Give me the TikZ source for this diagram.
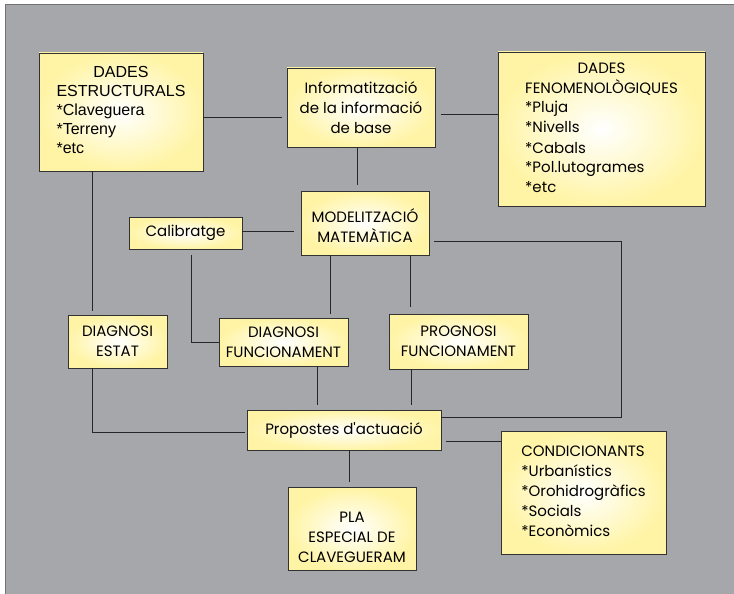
\documentclass[tikz,border=0pt]{standalone}
\usepackage{fontspec}
\setmainfont{Poppins}
\newfontfamily\helv{Liberation Sans}
\definecolor{fons}{RGB}{166,167,171}
\definecolor{groc}{RGB}{255,244,165}
\definecolor{vora}{RGB}{50,50,50}
\begin{document}
\begin{tikzpicture}[x=1pt,y=-1pt,
    caixa/.style={draw=vora, line width=0.8pt, inner sep=0pt, inner color=white, outer color=groc,
        align=center, font=\fontsize{15}{20}\selectfont},
    linia/.style={draw=black!85, line width=0.8pt}]
    \fill[white] (0,0) rectangle (734,594);
    \useasboundingbox (0,0) rectangle (734,594);
    \filldraw[fill=fons, draw=black!55, line width=0.6pt] (5,4) rectangle (740,600);
    % caixes
    \node[caixa, minimum width=164, minimum height=118, font=\helv\fontsize{16}{19}\selectfont] (estr) at (121,112)
        {\begin{tabular}{@{}l@{}}\multicolumn{1}{@{}c@{}}{DADES}\\ESTRUCTURALS\\{*}Claveguera\\{*}Terreny\\{*}etc\end{tabular}};
    \node[caixa, minimum width=148, minimum height=79] (info) at (361,107.5)
        {Informatització\\de la informació\\de base};
    \node[caixa, minimum width=207, minimum height=154] (fen) at (601.5,129)
        {\begin{tabular}{@{}l@{}}\multicolumn{1}{@{}c@{}}{DADES}\\\multicolumn{1}{@{}c@{}}{FENOMENOLÒGIQUES}\\{*}Pluja\\{*}Nivells\\{*}Cabals\\{*}Pol.lutogrames\\{*}etc\end{tabular}};
    \node[caixa, minimum width=113, minimum height=32] (cal) at (185.5,233) {Calibratge};
    \node[caixa, minimum width=128, minimum height=64] (model) at (365,223)
        {\begin{tabular}{@{}c@{}}\rule{0pt}{25pt}MODELITZACIÓ\\MATEMÀTICA\end{tabular}};
    \node[caixa, minimum width=99, minimum height=53] (diagE) at (117.5,341.5)
        {DIAGNOSI\\ESTAT};
    \node[caixa, minimum width=129, minimum height=48] (diagF) at (283.5,342)
        {DIAGNOSI\\FUNCIONAMENT};
    \node[caixa, minimum width=139, minimum height=55] (prog) at (458.5,341.5)
        {PROGNOSI\\FUNCIONAMENT};
    \node[caixa, minimum width=194, minimum height=40] (prop) at (344,430)
        {Propostes d\textquotesingle actuació};
    \node[caixa, minimum width=128, minimum height=83] (pla) at (352,528.5)
        {\begin{tabular}{@{}c@{}}\rule{0pt}{33pt}PLA\\ESPECIAL DE\\CLAVEGUERAM\end{tabular}};
    \node[caixa, minimum width=165, minimum height=123] (cond) at (583.5,492.5)
        {\begin{tabular}{@{}l@{}}CONDICIONANTS\\{*}Urbanístics\\{*}Orohidrogràfics\\{*}Socials\\{*}Econòmics\end{tabular}};
    % connexions
    \draw[linia, shorten >=5pt] ([yshift=-5pt]estr.east) -- ([yshift=-5pt]estr.east -| info.west);
    \draw[linia, shorten <=6pt] ([yshift=-6.5pt]info.east) -- ([yshift=-6.5pt]info.east -| fen.west);
    \draw[linia, shorten >=6pt] ([xshift=-4pt]info.south) -- ([xshift=-4pt]info.south |- model.north);
    \draw[linia, shorten >=7pt] ([yshift=2pt]cal.east) -- ([yshift=2pt]cal.east -| model.west);
    \draw[linia, shorten >=4pt] ([xshift=-29pt]estr.south) -- ([xshift=-29pt]estr.south |- diagE.north);
    \draw[linia, shorten <=6pt] ([xshift=5.5pt]cal.south) |- (diagF.west);
    \draw[linia, shorten >=4pt] ([xshift=-35pt]model.south) -- ([xshift=-35pt]model.south |- diagF.north);
    \draw[linia, shorten >=7pt] ([xshift=45pt]model.south) -- ([xshift=45pt]model.south |- prog.north);
    \draw[linia, shorten <=5pt] ([yshift=-18pt]model.east) -- ++(192,0) |- ([yshift=13pt]prop.east);
    \draw[linia, shorten >=2pt] ([xshift=-25.5pt]diagE.south) |- ([yshift=-2pt]prop.west);
    \draw[linia, shorten >=5pt] ([xshift=33.5pt]diagF.south) -- ([xshift=33.5pt]diagF.south |- prop.north);
    \draw[linia, shorten >=5pt] ([xshift=-47.5pt]prog.south) -- ([xshift=-47.5pt]prog.south |- prop.north);
    \draw[linia, shorten >=5pt] ([xshift=5pt]prop.south) -- ([xshift=5pt]prop.south |- pla.north);
    \draw[linia, shorten <=5pt] ([yshift=-11pt]prop.east) -- ([yshift=-11pt]prop.east -| cond.west);
\end{tikzpicture}
\end{document}
